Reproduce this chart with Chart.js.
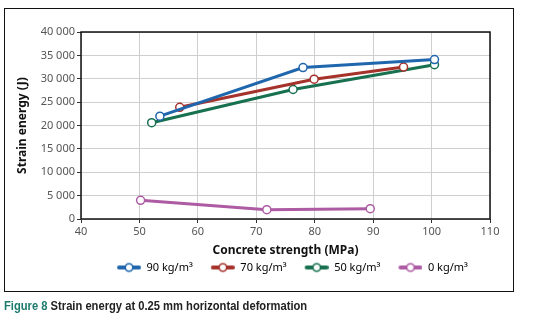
<!DOCTYPE html>
<html lang="en">
  <head>
    <meta charset="UTF-8" />
    <title>Strain energy at 0.25 mm horizontal deformation</title>
    <style>
      body {
        margin: 0;
        background: #fff;
        width: 542px;
        height: 320px;
        position: relative;
        overflow: hidden;
        font-family: "Noto Sans", Arial, sans-serif;
      }
      .frame {
        position: absolute;
        left: 4px;
        top: 8px;
        width: 508px;
        height: 282px;
        border: 1.5px solid #111;
        pointer-events: none;
      }
      .chart-box {
        position: absolute;
        left: 0;
        top: 0;
        width: 542px;
        height: 292px;
      }
      .caption {
        position: absolute;
        left: 4px;
        top: 298px;
        font-family: "Liberation Sans", sans-serif;
        font-weight: bold;
        font-size: 13px;
        color: #222;
        white-space: nowrap;
        transform: scaleX(0.86);
        transform-origin: left top;
      }
      .caption span {
        color: #1c7a6c;
      }
    </style>
    <script src="https://cdn.jsdelivr.net/npm/chart.js@4.4.1/dist/chart.umd.min.js"></script>
  </head>
  <body>
    <div class="chart-box"><canvas id="strainChart" width="542" height="292"></canvas></div>
    <div class="frame"></div>
    <div class="caption"><span>Figure 8</span> Strain energy at 0.25 mm horizontal deformation</div>

    <script>
      // series: concrete strength (MPa) vs strain energy (J)
      const seriesNames = ["90 kg/m³", "70 kg/m³", "50 kg/m³", "0 kg/m³"];
      const seriesColors = ["#1f66ad", "#a5322b", "#17704f", "#ad5ba3"];

      const strength90 = [53.5, 78.0, 100.5];
      const energy90 = [22000, 32400, 34100];
      const strength70 = [56.9, 79.9, 95.2];
      const energy70 = [23900, 29900, 32500];
      const strength50 = [52.1, 76.3, 100.5];
      const energy50 = [20600, 27700, 33000];
      const strength0 = [50.2, 71.8, 89.5];
      const energy0 = [4000, 2000, 2200];

      const xTicks = [40, 50, 60, 70, 80, 90, 100, 110];
      const yTicks = [0, 5000, 10000, 15000, 20000, 25000, 30000, 35000, 40000];

      const xs = [strength90, strength70, strength50, strength0];
      const ys = [energy90, energy70, energy50, energy0];

      // legend marker: thick line with an open circle, blank space on the left
      // so the items sit apart from each other
      function legendMarker(color) {
        const c = document.createElement("canvas");
        c.width = 38;
        c.height = 12;
        const g = c.getContext("2d");
        g.strokeStyle = color;
        g.lineWidth = 4;
        g.lineCap = "round";
        g.beginPath();
        g.moveTo(16, 6);
        g.lineTo(36, 6);
        g.stroke();
        g.fillStyle = "#fff";
        g.lineWidth = 1.6;
        g.beginPath();
        g.arc(26, 6, 3.8, 0, Math.PI * 2);
        g.fill();
        g.stroke();
        return c;
      }

      const datasets = seriesNames.map((name, i) => ({
        label: name,
        data: xs[i].map((x, j) => ({ x: x, y: ys[i][j] })),
        showLine: true,
        borderColor: seriesColors[i],
        backgroundColor: "#fff",
        borderWidth: 3,
        pointRadius: 4,
        pointBorderWidth: 1.5,
        pointBackgroundColor: "#fff",
        pointBorderColor: seriesColors[i],
        pointStyle: "circle",
        legendImage: legendMarker(seriesColors[i]),
      }));

      const plotBorder = {
        id: "plotBorder",
        afterDatasetsDraw(chart) {
          const a = chart.chartArea;
          const ctx = chart.ctx;
          ctx.save();
          ctx.strokeStyle = "#111";
          ctx.lineWidth = 1.5;
          ctx.strokeRect(a.left, a.top, a.right - a.left, a.bottom - a.top);
          ctx.restore();
        },
      };

      function spaced(v) {
        return String(v).replace(/\B(?=(\d{3})+(?!\d))/g, " ");
      }

      const ctx = document.getElementById("strainChart").getContext("2d");
      new Chart(ctx, {
        type: "scatter",
        data: { datasets: datasets },
        plugins: [plotBorder],
        options: {
          responsive: false,
          animation: false,
          layout: { padding: { left: 0, right: 52, top: 32, bottom: 9 } },
          plugins: {
            tooltip: { enabled: false },
            legend: {
              position: "bottom",
              fullSize: false,
              labels: {
                usePointStyle: true,
                pointStyleWidth: 38,
                boxHeight: 12,
                padding: 4,
                color: "#444",
                font: { family: "Noto Sans", size: 11 },
                generateLabels(chart) {
                  return chart.data.datasets.map((d, i) => ({
                    text: d.label,
                    pointStyle: d.legendImage,
                    fillStyle: "#fff",
                    strokeStyle: d.borderColor,
                    lineWidth: 0,
                    hidden: false,
                    datasetIndex: i,
                  }));
                },
              },
            },
          },
          scales: {
            x: {
              type: "linear",
              min: 40,
              max: 110,
              afterBuildTicks(scale) {
                scale.ticks = xTicks.map((v) => ({ value: v }));
              },
              afterFit(scale) {
                scale.height = 39;
              },
              grid: { color: "#cfcfcf", lineWidth: 1, tickLength: 4, tickColor: "#333" },
              border: { display: false },
              ticks: {
                color: "#555",
                padding: 2,
                font: { family: "Noto Sans", size: 11 },
              },
              title: {
                display: true,
                text: "Concrete strength (MPa)",
                color: "#111",
                padding: { top: 2, bottom: 0 },
                font: { family: "Noto Sans", size: 12, weight: "bold" },
              },
            },
            y: {
              min: 0,
              max: 40000,
              afterBuildTicks(scale) {
                scale.ticks = yTicks.map((v) => ({ value: v }));
              },
              afterFit(scale) {
                scale.width = 81;
              },
              grid: { color: "#cfcfcf", lineWidth: 1, tickLength: 4, tickColor: "#333" },
              border: { display: false },
              ticks: {
                color: "#555",
                padding: 2,
                font: { family: "Noto Sans", size: 11 },
                callback: (v) => spaced(v),
              },
              title: {
                display: true,
                text: "Strain energy (J)",
                color: "#111",
                padding: { top: 15, bottom: 0 },
                font: { family: "Noto Sans", size: 12, weight: "bold" },
              },
            },
          },
        },
      });
    </script>
  </body>
</html>
